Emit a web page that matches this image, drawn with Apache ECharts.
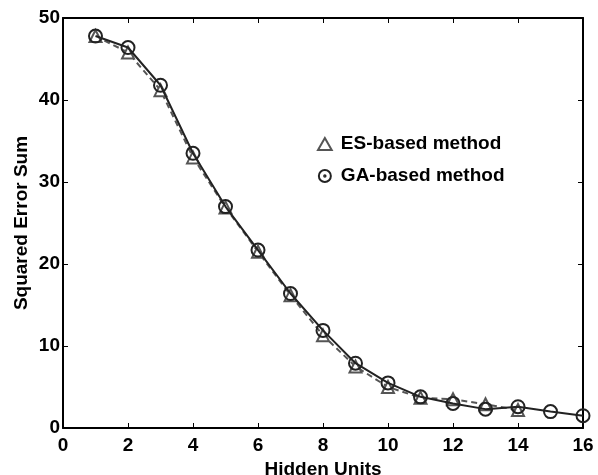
<!DOCTYPE html>
<html>
<head>
<meta charset="utf-8">
<script src="https://cdn.jsdelivr.net/npm/echarts@6/dist/echarts.min.js"></script>
<style>
  html, body { margin: 0; padding: 0; background: #fff; }
  #main { width: 598px; height: 475px; }
</style>
</head>
<body>
<div id="main"></div>
<script>
// hidden units on the x axis
const unitsGA = [1, 2, 3, 4, 5, 6, 7, 8, 9, 10, 11, 12, 13, 14, 15, 16]
const unitsES = [1, 2, 3, 4, 5, 6, 7, 8, 9, 10, 11, 12, 13, 14]
// squared error sum
const errGA = [47.8, 46.4, 41.8, 33.5, 27.0, 21.7, 16.4, 11.9, 7.9, 5.5, 3.8, 3.0, 2.3, 2.6, 2.0, 1.5]
const errES = [47.8, 45.8, 41.2, 33.0, 26.9, 21.5, 16.2, 11.3, 7.5, 5.0, 3.7, 3.5, 2.9, 2.2]

const font = 'Liberation Sans, Arial, sans-serif'
// circle with a dot in the middle (legend icon)
const ringDot = 'path://M0,-10A10,10,0,1,1,0,10A10,10,0,1,1,0,-10Z M0,-1.2A1.2,1.2,0,1,1,0,1.2A1.2,1.2,0,1,1,0,-1.2Z'

const myChart = echarts.init(document.getElementById('main'))

const axisLine = { show: true, onZero: false, lineStyle: { color: '#000', width: 2 } }
const axisTick = { show: true, inside: true, length: 5, lineStyle: { color: '#000', width: 1 } }
const axisLabel = { color: '#000', fontSize: 19, fontWeight: 'bold', fontFamily: font }
const nameStyle = { color: '#000', fontSize: 19, fontWeight: 'bold', fontFamily: font }

const options = {
  animation: false,
  grid: { left: 63, top: 18, right: 15, bottom: 47, outerBoundsMode: 'none' },
  legend: {
    orient: 'vertical',
    left: 312,
    top: 129,
    itemGap: 12,
    itemWidth: 14,
    itemHeight: 12,
    textStyle: { color: '#000', fontSize: 19, fontWeight: 'bold', fontFamily: font, lineHeight: 20, padding: [0, 0, 0, 4] },
    data: [
      { name: 'ES-based method', icon: 'path://M0,-8L8,6L-8,6Z', itemStyle: { color: '#fff', borderColor: '#555', borderWidth: 2 } },
      { name: 'GA-based method', icon: ringDot, itemStyle: { color: '#fff', borderColor: '#222', borderWidth: 2 } }
    ]
  },
  xAxis: [
    {
      type: 'value', min: 0, max: 16, interval: 2,
      name: 'Hidden Units', nameLocation: 'middle', nameGap: 32, nameTextStyle: nameStyle,
      nameMoveOverlap: false,
      axisLine, axisTick, axisLabel: { ...axisLabel, margin: 8 }, splitLine: { show: false }
    },
    {
      type: 'value', min: 0, max: 16, interval: 2, position: 'top',
      axisLine, axisTick, axisLabel: { show: false }, splitLine: { show: false }
    }
  ],
  yAxis: [
    {
      type: 'value', min: 0, max: 50, interval: 10,
      name: 'Squared Error Sum', nameLocation: 'middle', nameGap: 32, nameTextStyle: nameStyle,
      nameMoveOverlap: false,
      axisLine, axisTick, axisLabel: { ...axisLabel, margin: 3 }, splitLine: { show: false }
    },
    {
      type: 'value', min: 0, max: 50, interval: 10, position: 'right',
      axisLine, axisTick, axisLabel: { show: false }, splitLine: { show: false }
    }
  ],
  series: [
    {
      name: 'ES-based method',
      type: 'line',
      data: unitsES.map((u, i) => [u, errES[i]]),
      symbol: 'triangle',
      symbolSize: 12,
      itemStyle: { color: '#fff', borderColor: '#555', borderWidth: 2 },
      lineStyle: { color: '#555', width: 2, type: [6, 4] },
      z: 2
    },
    {
      name: 'GA-based method',
      type: 'line',
      data: unitsGA.map((u, i) => [u, errGA[i]]),
      symbol: 'circle',
      symbolSize: 13,
      itemStyle: { color: 'rgba(0,0,0,0)', borderColor: '#222', borderWidth: 2 },
      lineStyle: { color: '#222', width: 2 },
      z: 3
    }
  ]
}

myChart.setOption(options)
</script>
</body>
</html>
